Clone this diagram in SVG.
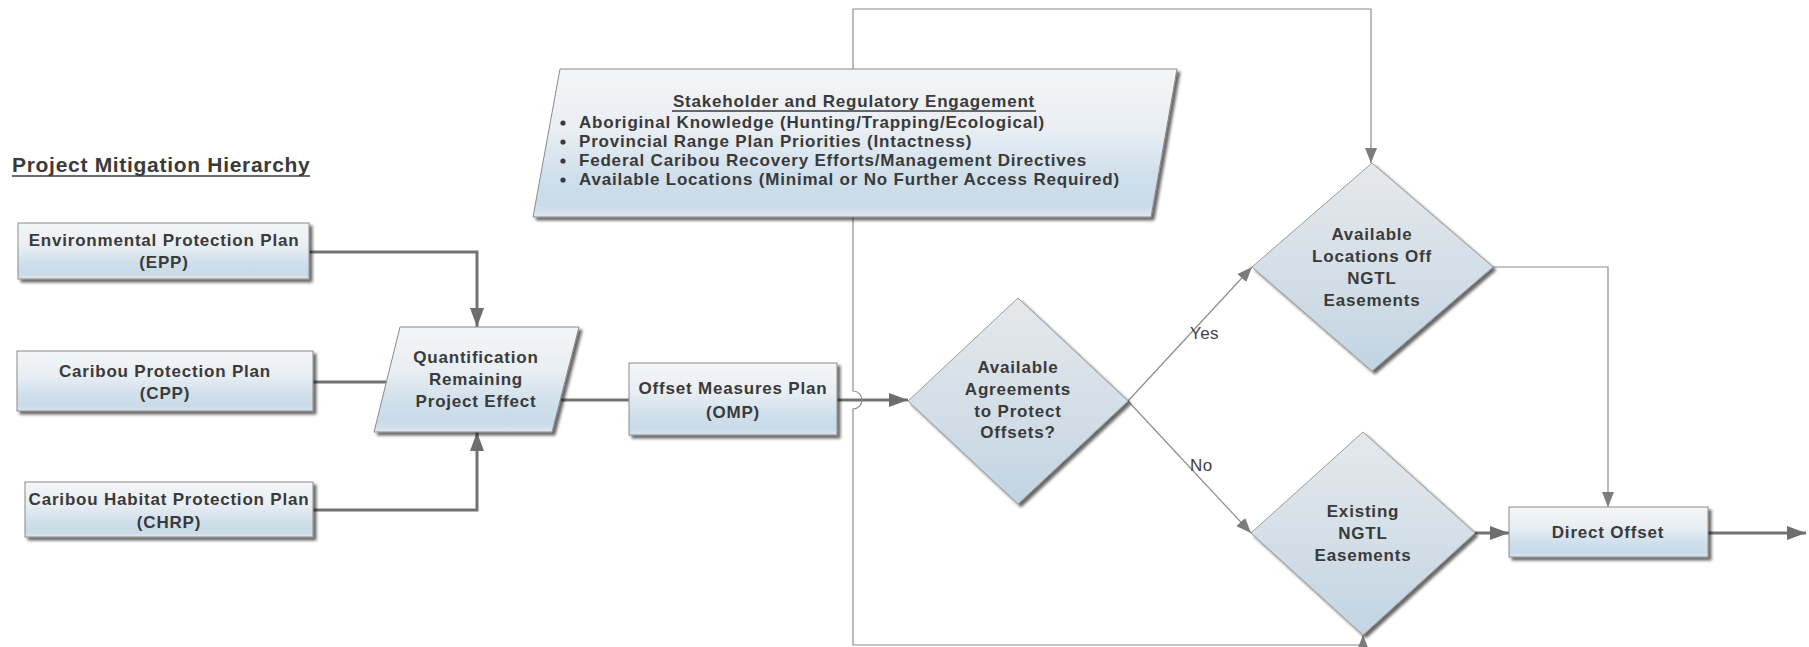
<svg xmlns="http://www.w3.org/2000/svg" width="1809" height="647" viewBox="0 0 1809 647">
  <defs>
    <style>
      .lbl { font-family: "Liberation Sans", Arial, sans-serif; font-weight: bold; font-size: 17px; letter-spacing: 0.8px; fill: #3a3a3a; text-anchor: middle; }
      .lft { text-anchor: start; }
      .yn { font-family: "Liberation Sans", Arial, sans-serif; font-size: 17px; letter-spacing: 0.4px; fill: #3f3f3f; }
      .heading { font-family: "Liberation Sans", Arial, sans-serif; font-weight: bold; font-size: 21px; letter-spacing: 0.7px; fill: #3a3a3a; }
      .box { fill: url(#gBox); stroke: #8a8a8a; stroke-width: 1; filter: url(#sh); }
      .dia { fill: url(#gDia); stroke: #9a9a9a; stroke-width: 1; filter: url(#sh); }
      .thick { fill: none; stroke: #737373; stroke-width: 3; }
      .thin { fill: none; stroke: #8c8c8c; stroke-width: 1.2; }
      .uline { stroke: #3a3a3a; stroke-width: 1.3; }
    </style>
    <linearGradient id="gBox" x1="0" y1="0" x2="0" y2="1">
      <stop offset="0" stop-color="#f4f5f7"/>
      <stop offset="0.4" stop-color="#e9eef3"/>
      <stop offset="0.72" stop-color="#cfdfeb"/>
      <stop offset="0.92" stop-color="#c9dae8"/>
      <stop offset="1" stop-color="#dde7ef"/>
    </linearGradient>
    <linearGradient id="gDia" x1="0" y1="0" x2="0" y2="1">
      <stop offset="0" stop-color="#e6e8ea"/>
      <stop offset="0.45" stop-color="#d6e0e8"/>
      <stop offset="1" stop-color="#c2d4e2"/>
    </linearGradient>
    <filter id="sh" x="-5%" y="-5%" width="115%" height="125%">
      <feGaussianBlur in="SourceAlpha" stdDeviation="1.5"/>
      <feOffset dx="3" dy="3" result="o"/>
      <feComponentTransfer><feFuncA type="linear" slope="0.6"/></feComponentTransfer>
      <feMerge><feMergeNode/><feMergeNode in="SourceGraphic"/></feMerge>
    </filter>
    <marker id="ah" markerUnits="userSpaceOnUse" markerWidth="20" markerHeight="14" refX="19" refY="7" orient="auto">
      <path d="M0,0 L19,7 L0,14 z" fill="#6e6e6e"/>
    </marker>
    <marker id="ahs" markerUnits="userSpaceOnUse" markerWidth="16" markerHeight="12" refX="15" refY="6" orient="auto-start-reverse">
      <path d="M0,0 L15,6 L0,12 z" fill="#7c7c7c"/>
    </marker>
  </defs>

  <rect width="1809" height="647" fill="#ffffff"/>

  <!-- connectors -->
  <g id="connectors">
    <path class="thick" d="M309,252 H477 V327" marker-end="url(#ah)"/>
    <path class="thick" d="M313,382 H386"/>
    <path class="thick" d="M313,510 H477 V432" marker-end="url(#ah)"/>
    <path class="thick" d="M560,400 H629"/>
    <path class="thick" d="M837,400 H908" marker-end="url(#ah)"/>
    <!-- return loop with a hop over the main flow line -->
    <path class="thin" d="M1363,635 V645 H853 V409 A9,9 0 0 0 853,391 V9 H1371 V163" marker-start="url(#ahs)" marker-end="url(#ahs)"/>
    <path class="thin" d="M1128,401 L1252,267" marker-end="url(#ahs)"/>
    <path class="thin" d="M1128,401 L1251,533" marker-end="url(#ahs)"/>
    <path class="thin" d="M1493,267 H1608 V507" marker-end="url(#ahs)"/>
    <path class="thick" d="M1475,533 H1509" marker-end="url(#ah)"/>
    <path class="thick" d="M1708,533 H1806" marker-end="url(#ah)"/>
    <text class="yn" x="1190" y="339">Yes</text>
    <text class="yn" x="1190" y="471">No</text>
  </g>

  <g id="heading">
    <text class="heading" x="12" y="172">Project Mitigation Hierarchy</text>
    <line class="uline" x1="12" y1="176" x2="310" y2="176"/>
  </g>

  <g id="node-epp">
    <rect class="box" x="18" y="223" width="291" height="56"/>
    <text class="lbl" x="164" y="246">Environmental Protection Plan</text>
    <text class="lbl" x="164" y="268">(EPP)</text>
  </g>

  <g id="node-cpp">
    <rect class="box" x="17" y="351" width="296" height="60"/>
    <text class="lbl" x="165" y="377">Caribou Protection Plan</text>
    <text class="lbl" x="165" y="399">(CPP)</text>
  </g>

  <g id="node-chrp">
    <rect class="box" x="25" y="482" width="288" height="55"/>
    <text class="lbl" x="169" y="505">Caribou Habitat Protection Plan</text>
    <text class="lbl" x="169" y="528">(CHRP)</text>
  </g>

  <g id="node-quantification">
    <polygon class="box" points="400,327 579,327 552,432 374,432"/>
    <text class="lbl" x="476" y="363">Quantification</text>
    <text class="lbl" x="476" y="385">Remaining</text>
    <text class="lbl" x="476" y="407">Project Effect</text>
  </g>

  <g id="node-omp">
    <rect class="box" x="629" y="363" width="208" height="72"/>
    <text class="lbl" x="733" y="394">Offset Measures Plan</text>
    <text class="lbl" x="733" y="418">(OMP)</text>
  </g>

  <g id="node-engagement">
    <polygon class="box" points="560,69 1177,69 1151,217 533,217"/>
    <text class="lbl" x="854" y="107">Stakeholder and Regulatory Engagement</text>
    <line class="uline" x1="672" y1="111" x2="1036" y2="111"/>
    <g fill="#3a3a3a">
      <circle cx="563" cy="123" r="2.6"/>
      <circle cx="563" cy="142" r="2.6"/>
      <circle cx="563" cy="161" r="2.6"/>
      <circle cx="563" cy="180" r="2.6"/>
    </g>
    <text class="lbl lft" x="579" y="128">Aboriginal Knowledge (Hunting/Trapping/Ecological)</text>
    <text class="lbl lft" x="579" y="147">Provincial Range Plan Priorities (Intactness)</text>
    <text class="lbl lft" x="579" y="166">Federal Caribou Recovery Efforts/Management Directives</text>
    <text class="lbl lft" x="579" y="185">Available Locations (Minimal or No Further Access Required)</text>
  </g>

  <g id="node-agreements">
    <polygon class="dia" points="1018,298 1128,401 1018,504 908,401"/>
    <text class="lbl" x="1018" y="373">Available</text>
    <text class="lbl" x="1018" y="395">Agreements</text>
    <text class="lbl" x="1018" y="417">to Protect</text>
    <text class="lbl" x="1018" y="438">Offsets?</text>
  </g>

  <g id="node-locations-off">
    <polygon class="dia" points="1372,163 1493,267 1372,371 1252,267"/>
    <text class="lbl" x="1372" y="240">Available</text>
    <text class="lbl" x="1372" y="262">Locations Off</text>
    <text class="lbl" x="1372" y="284">NGTL</text>
    <text class="lbl" x="1372" y="306">Easements</text>
  </g>

  <g id="node-existing">
    <polygon class="dia" points="1363,432 1475,533 1363,635 1251,533"/>
    <text class="lbl" x="1363" y="517">Existing</text>
    <text class="lbl" x="1363" y="539">NGTL</text>
    <text class="lbl" x="1363" y="561">Easements</text>
  </g>

  <g id="node-direct-offset">
    <rect class="box" x="1509" y="507" width="199" height="50"/>
    <text class="lbl" x="1608" y="538">Direct Offset</text>
  </g>
</svg>
